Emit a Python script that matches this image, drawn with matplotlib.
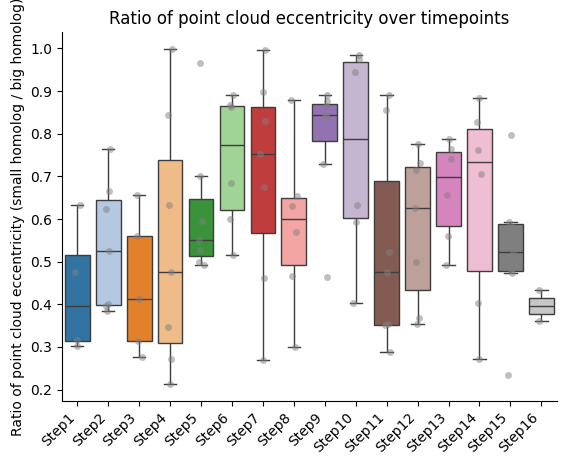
import pandas as pd
import matplotlib
matplotlib.use("Agg")
import matplotlib.pyplot as plt
import seaborn as sns

steps = ["Step%d" % i for i in range(1, 17)]

step01 = [0.302, 0.317, 0.475, 0.633]
step02 = [0.384, 0.397, 0.400, 0.524, 0.623, 0.665, 0.764]
step03 = [0.276, 0.313, 0.412, 0.559, 0.657]
step04 = [0.213, 0.271, 0.347, 0.475, 0.632, 0.845, 0.999]
step05 = [0.492, 0.499, 0.527, 0.550, 0.595, 0.701, 0.965]
step06 = [0.515, 0.599, 0.684, 0.862, 0.867, 0.890]
step07 = [0.269, 0.461, 0.674, 0.752, 0.829, 0.897, 0.996]
step08 = [0.299, 0.466, 0.569, 0.630, 0.655, 0.880]
step09 = [0.463, 0.728, 0.840, 0.843, 0.864, 0.877, 0.890]
step10 = [0.402, 0.592, 0.633, 0.944, 0.975, 0.985]
step11 = [0.288, 0.351, 0.354, 0.475, 0.523, 0.855, 0.890]
step12 = [0.353, 0.368, 0.499, 0.626, 0.714, 0.731, 0.777]
step13 = [0.492, 0.559, 0.656, 0.740, 0.764, 0.787]
step14 = [0.271, 0.402, 0.705, 0.763, 0.827, 0.885]
step15 = [0.234, 0.473, 0.481, 0.522, 0.582, 0.593, 0.797]
step16 = [0.360, 0.433]

values = [step01, step02, step03, step04, step05, step06, step07, step08,
          step09, step10, step11, step12, step13, step14, step15, step16]

rows = []
for name, vals in zip(steps, values):
    for v in vals:
        rows.append({"Step": name, "Ratio": v})
df = pd.DataFrame(rows)

fig = plt.figure(figsize=(5.67, 4.66), dpi=100)
ax = fig.add_axes([0.109, 0.140, 0.873, 0.791])

sns.boxplot(data=df, x="Step", y="Ratio", hue="Step", palette="tab20",
            order=steps, showfliers=False, legend=False, ax=ax)
sns.stripplot(data=df, x="Step", y="Ratio", order=steps, color="gray",
              alpha=0.5, size=5, jitter=True, ax=ax)

ax.set_title("Ratio of point cloud eccentricity over timepoints")
ax.set_xlabel("")
ax.set_ylabel("Ratio of point cloud eccentricity (small homolog / big homolog)")
plt.setp(ax.get_xticklabels(), rotation=45, ha="right")
ax.spines["top"].set_visible(False)
ax.spines["right"].set_visible(False)

fig.savefig("out.png", dpi=100)
